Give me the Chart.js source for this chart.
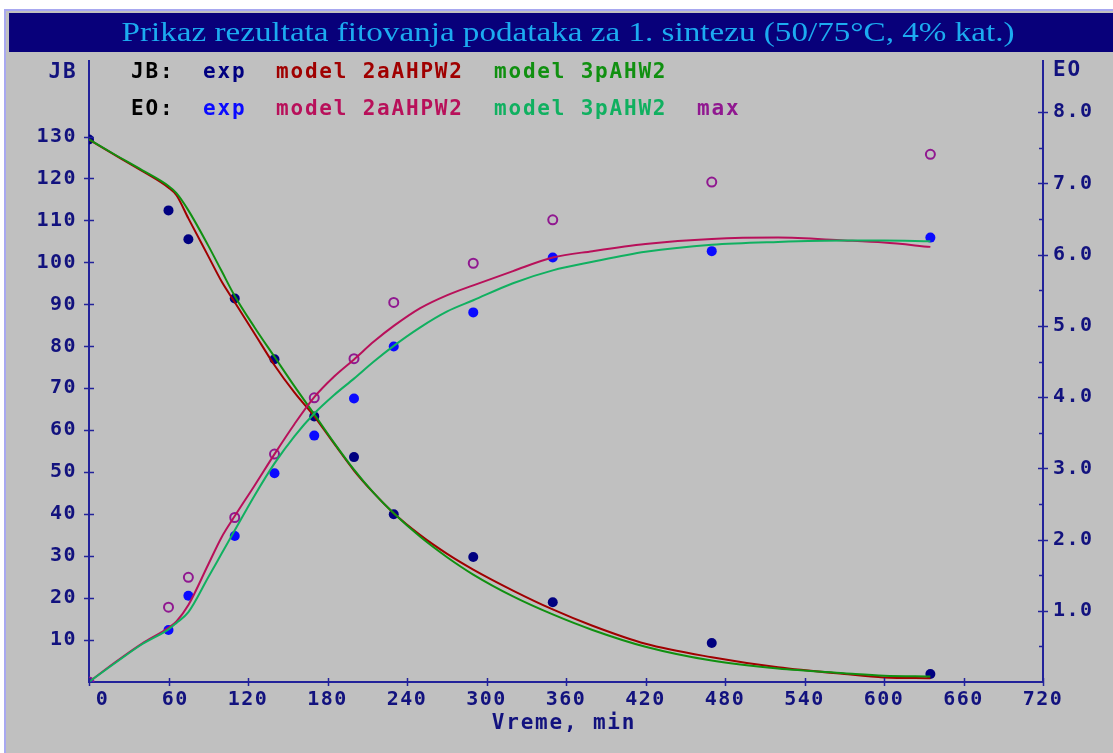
<!DOCTYPE html>
<html>
<head>
<meta charset="utf-8">
<script src="https://cdn.jsdelivr.net/npm/chart.js@4/dist/chart.umd.min.js"></script>
<style>
html, body { margin: 0; padding: 0; background: #fff; }
#wrap { width: 1113px; height: 753px; }
</style>
</head>
<body>
<div id="wrap"><canvas id="chart" width="1113" height="753"></canvas></div>
<script>
// measured points (time in min)
const timeExp = [0, 60, 75, 110, 140, 170, 200, 230, 290, 350, 470, 635];
const jbExp = [129.3, 112.4, 105.5, 91.4, 76.9, 63.3, 53.6, 40.0, 29.8, 19.0, 9.3, 1.9];
const eoExp = [0, 0.73, 1.21, 2.05, 2.93, 3.46, 3.98, 4.71, 5.19, 5.96, 6.05, 6.24];
const eoMax = [0, 1.05, 1.47, 2.31, 3.20, 3.99, 4.54, 5.33, 5.88, 6.49, 7.02, 7.41];

// model curves
const timeModel = [0, 20, 40, 60, 66, 75, 90, 100, 110, 125, 140, 155, 170, 185, 200, 215, 230, 250, 270, 290, 320, 350, 380, 420, 470, 520, 570, 600, 635];
const jbModel2a = [129.3, 125.5, 121.8, 117.8, 116, 110.5, 101.5, 95.5, 90.5, 83, 75.5, 69, 63.3, 56.8, 50.4, 45, 40.2, 35, 30.6, 26.8, 21.8, 17.3, 13.4, 9.1, 5.9, 3.5, 1.9, 1.1, 0.9];
const jbModel3p = [129.3, 125.6, 122, 118.2, 116.5, 112.4, 104, 98, 92, 84.5, 77.5, 70.5, 63.8, 57, 50.6, 45, 40.2, 34.6, 29.8, 25.6, 20.4, 16.1, 12.4, 8.4, 5.1, 3.2, 2.1, 1.5, 1.3];
const eoModel2a = [0, 0.28, 0.54, 0.76, 0.85, 1.08, 1.65, 2.03, 2.33, 2.76, 3.2, 3.62, 4.0, 4.29, 4.53, 4.78, 5.0, 5.25, 5.43, 5.57, 5.77, 5.96, 6.05, 6.15, 6.22, 6.24, 6.2, 6.17, 6.11];
const eoModel3p = [0, 0.27, 0.53, 0.74, 0.83, 0.98, 1.47, 1.8, 2.13, 2.62, 3.07, 3.45, 3.77, 4.03, 4.26, 4.5, 4.72, 4.98, 5.2, 5.36, 5.6, 5.78, 5.9, 6.04, 6.14, 6.18, 6.2, 6.2, 6.19];

// ticks
const xTicks = [0, 60, 120, 180, 240, 300, 360, 420, 480, 540, 600, 660, 720];
const jbTicks = [10, 20, 30, 40, 50, 60, 70, 80, 90, 100, 110, 120, 130];
const eoTicks = [1, 2, 3, 4, 5, 6, 7, 8];
const eoMinorTicks = [0.5, 1.5, 2.5, 3.5, 4.5, 5.5, 6.5, 7.5];

const titleText = 'Prikaz rezultata fitovanja podataka za 1. sintezu (50/75°C, 4% kat.)';

const col = {
    navy: '#12127e',
    axis: '#22229a',
    jbExp: '#000080',
    jbRed: '#a00000',
    jbGreen: '#109010',
    eoExp: '#0a0aff',
    eoRed: '#b8105a',
    eoGreen: '#10b060',
    max: '#901890'
};

const monoFont = '"DejaVu Sans Mono", "Liberation Mono", monospace';

function pts(xs, ys) {
    return xs.map((x, i) => ({ x: x, y: ys[i] }));
}

function modelLine(label, ys, axis, color) {
    return {
        label: label,
        data: pts(timeModel, ys),
        yAxisID: axis,
        showLine: true,
        borderColor: color,
        backgroundColor: color,
        borderWidth: 2,
        pointRadius: 0,
        cubicInterpolationMode: 'monotone',
        fill: false
    };
}

// background, title bar, legend, tick marks
const framePlugin = {
    id: 'frame',
    beforeDraw(chart) {
        const ctx = chart.ctx;
        const w = chart.width, h = chart.height;
        ctx.save();
        ctx.fillStyle = '#ffffff';
        ctx.fillRect(0, 0, w, h);
        ctx.fillStyle = '#a8a8f0';
        ctx.fillRect(4, 9, w - 4, h - 9);
        ctx.fillStyle = '#c0c0c0';
        ctx.fillRect(6, 11, w - 6, h - 11);
        ctx.fillStyle = '#08007a';
        ctx.fillRect(9, 13, w - 9, 39);

        ctx.font = '27px "Liberation Serif", serif';
        ctx.fillStyle = '#1cabf0';
        ctx.textAlign = 'center';
        ctx.textBaseline = 'alphabetic';
        const tw = ctx.measureText(titleText).width;
        ctx.translate(568, 41);
        ctx.scale(893 / tw, 1);
        ctx.fillText(titleText, 0, 0);
        ctx.restore();
        ctx.letterSpacing = '1.5px';
    },
    afterDraw(chart) {
        const ctx = chart.ctx;
        const area = chart.chartArea;
        const sx = chart.scales.x, sy = chart.scales.y, sy1 = chart.scales.y1;
        ctx.save();
        ctx.strokeStyle = col.axis;
        ctx.lineWidth = 1.5;
        ctx.beginPath();
        xTicks.forEach(v => {
            const px = Math.round(sx.getPixelForValue(v)) + 0.5;
            ctx.moveTo(px, area.bottom - 4);
            ctx.lineTo(px, area.bottom + 4);
        });
        jbTicks.forEach(v => {
            const py = Math.round(sy.getPixelForValue(v)) + 0.5;
            ctx.moveTo(area.left - 5, py);
            ctx.lineTo(area.left + 5, py);
        });
        eoTicks.forEach(v => {
            const py = Math.round(sy1.getPixelForValue(v)) + 0.5;
            ctx.moveTo(area.right - 5, py);
            ctx.lineTo(area.right + 5, py);
        });
        eoMinorTicks.forEach(v => {
            const py = Math.round(sy1.getPixelForValue(v)) + 0.5;
            ctx.moveTo(area.right - 4, py);
            ctx.lineTo(area.right, py);
        });
        ctx.stroke();

        // axis titles
        ctx.letterSpacing = '1.8px';
        ctx.font = 'bold 21px ' + monoFont;
        ctx.textBaseline = 'middle';
        ctx.fillStyle = col.navy;
        ctx.textAlign = 'center';
        ctx.fillText('JB', 63, 73);
        ctx.fillText('Vreme, min', 564, 724);
        ctx.textAlign = 'left';
        ctx.fillText('EO', 1053, 71);

        // legend
        const rows = [
            { y: 73, items: [['JB:', '#000000', 131], ['exp', col.jbExp, 203], ['model 2aAHPW2', col.jbRed, 276], ['model 3pAHW2', col.jbGreen, 494]] },
            { y: 110, items: [['EO:', '#000000', 131], ['exp', col.eoExp, 203], ['model 2aAHPW2', col.eoRed, 276], ['model 3pAHW2', col.eoGreen, 494], ['max', col.max, 697]] }
        ];
        rows.forEach(r => {
            r.items.forEach(it => {
                ctx.fillStyle = it[1];
                ctx.fillText(it[0], it[2], r.y);
            });
        });
        ctx.restore();
    }
};

const tickFont = { family: monoFont, size: 20, weight: 'bold' };

new Chart(document.getElementById('chart').getContext('2d'), {
    type: 'scatter',
    data: {
        datasets: [
            modelLine('EO model 3pAHW2', eoModel3p, 'y1', col.eoGreen),
            modelLine('EO model 2aAHPW2', eoModel2a, 'y1', col.eoRed),
            modelLine('JB model 3pAHW2', jbModel3p, 'y', col.jbGreen),
            modelLine('JB model 2aAHPW2', jbModel2a, 'y', col.jbRed),
            {
                label: 'EO max',
                data: pts(timeExp, eoMax),
                yAxisID: 'y1',
                pointStyle: 'circle',
                pointRadius: 4.5,
                borderWidth: 2,
                borderColor: col.max,
                backgroundColor: 'rgba(0,0,0,0)'
            },
            {
                label: 'EO exp',
                data: pts(timeExp, eoExp),
                yAxisID: 'y1',
                pointRadius: 5,
                borderWidth: 0,
                backgroundColor: col.eoExp
            },
            {
                label: 'JB exp',
                data: pts(timeExp, jbExp),
                yAxisID: 'y',
                pointRadius: 5,
                borderWidth: 0,
                backgroundColor: col.jbExp
            }
        ]
    },
    options: {
        responsive: false,
        animation: false,
        layout: { padding: { top: 61, left: 0, right: 0, bottom: 0 } },
        plugins: {
            legend: { display: false },
            tooltip: { enabled: false }
        },
        scales: {
            x: {
                type: 'linear',
                position: 'bottom',
                min: 0,
                max: 720,
                afterFit: s => { s.height = 71; },
                afterBuildTicks: s => { s.ticks = xTicks.map(v => ({ value: v })); },
                grid: { display: false, drawTicks: false },
                border: { display: true, color: col.axis, width: 2 },
                ticks: {
                    color: col.navy,
                    font: tickFont,
                    padding: 6,
                    maxRotation: 0,
                    autoSkip: false,
                    callback: v => String(v).padStart(3, ' ')
                }
            },
            y: {
                type: 'linear',
                position: 'left',
                min: 0,
                max: 148,
                afterFit: s => { s.width = 89; },
                afterBuildTicks: s => { s.ticks = jbTicks.map(v => ({ value: v })); },
                grid: { display: false, drawTicks: false },
                border: { display: true, color: col.axis, width: 2 },
                ticks: {
                    color: col.navy,
                    font: tickFont,
                    padding: 12,
                    autoSkip: false,
                    callback: v => String(v)
                }
            },
            y1: {
                type: 'linear',
                position: 'right',
                min: 0,
                max: 8.72,
                afterFit: s => { s.width = 70; },
                afterBuildTicks: s => { s.ticks = eoTicks.map(v => ({ value: v })); },
                grid: { display: false, drawTicks: false },
                border: { display: true, color: col.axis, width: 2 },
                ticks: {
                    color: col.navy,
                    font: tickFont,
                    padding: 10,
                    autoSkip: false,
                    callback: v => v.toFixed(1)
                }
            }
        }
    },
    plugins: [framePlugin]
});
</script>
</body>
</html>
